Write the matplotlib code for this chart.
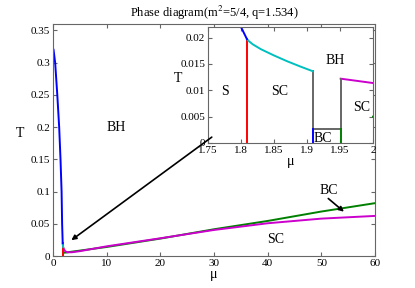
import matplotlib
matplotlib.use("Agg")
import matplotlib.pyplot as plt

plt.rcParams['font.family'] = ['Liberation Serif', 'DejaVu Serif']
plt.rcParams['mathtext.fontset'] = 'stix'

# boundary curves (mu, T)
blue_mu = [0.1, 0.4, 0.8, 1.15, 1.4, 1.6, 1.7, 1.8, 1.809]
blue_T = [0.32, 0.30, 0.25, 0.20, 0.15, 0.10, 0.05, 0.022, 0.0197]
cyan_mu = [1.809, 1.812, 1.818, 1.83, 1.85, 1.87, 1.89, 1.909]
cyan_T = [0.0197, 0.0193, 0.0187, 0.0178, 0.0166, 0.0155, 0.0145, 0.0136]
red_mu = [1.809, 1.809]
red_T = [0.0, 0.0197]
gray_mu = [1.909, 1.909, 1.951, 1.951]
gray_T = [0.0136, 0.0027, 0.0027, 0.0122]
bluev_mu = [1.909, 1.909]
bluev_T = [0.0, 0.0027]
greenv_mu = [1.951, 1.951]
greenv_T = [0.0, 0.0027]
mag_mu = [1.951, 2.2, 2.6, 3.5, 5, 10, 20, 30, 40, 50, 60]
mag_T = [0.0122, 0.008, 0.0058, 0.0058, 0.0075, 0.0150, 0.0275, 0.0404, 0.0508, 0.058, 0.0622]
green_mu = [2.0, 10, 20, 30, 40, 50, 60]
green_T = [0.005, 0.014, 0.027, 0.0415, 0.0544, 0.069, 0.082]

main_xticks = [0, 10, 20, 30, 40, 50, 60]
main_yticks = [0, 0.05, 0.1, 0.15, 0.2, 0.25, 0.3, 0.35]
main_ylabels = ['0', '0.05', '0.1', '0.15', '0.2', '0.25', '0.3', '0.35']
ins_xticks = [1.75, 1.8, 1.85, 1.9, 1.95, 2.0]
ins_xlabels = ['1.75', '1.8', '1.85', '1.9', '1.95', '2']
ins_yticks = [0, 0.005, 0.01, 0.015, 0.02]
ins_ylabels = ['0', '0.005', '0.01', '0.015', '0.02']

axcol = '0.4'


def draw_curves(a, lw):
    a.plot(green_mu, green_T, color='#008000', lw=lw)
    a.plot(mag_mu, mag_T, color='#cc00cc', lw=lw)
    a.plot(gray_mu, gray_T, color='0.4', lw=lw)
    a.plot(bluev_mu, bluev_T, color='#0000ff', lw=lw)
    a.plot(greenv_mu, greenv_T, color='#008000', lw=lw)
    a.plot(red_mu, red_T, color='#ff0000', lw=lw)
    a.plot(cyan_mu, cyan_T, color='#00bfbf', lw=lw)
    a.plot(blue_mu, blue_T, color='#0000ff', lw=lw)


def style(a):
    for s in a.spines.values():
        s.set_color(axcol)
    a.tick_params(direction='in', top=True, right=True, labelsize=8,
                  color=axcol, length=3, pad=2)


fig = plt.figure(figsize=(4.15, 2.88), dpi=100)
ax = fig.add_axes([53 / 415, 1 - 256 / 288, 322 / 415, 232 / 288])
draw_curves(ax, 1.4)
ax.set_xlim(0, 60)
ax.set_ylim(0, 0.36)
ax.set_xticks(main_xticks)
ax.set_yticks(main_yticks)
ax.set_yticklabels(main_ylabels)
style(ax)
ax.set_xlabel('μ', fontsize=10, labelpad=0)
ax.set_ylabel('T', fontsize=10, rotation=0, labelpad=8)
ax.set_title('Phase diagram(m$^2$=5/4, q=1.534)', fontsize=9, pad=5)
ax.text(11.8, 0.2, 'BH', fontsize=10, ha='center', va='center')
ax.text(41.4, 0.025, 'SC', fontsize=10, ha='center', va='center')
ax.text(51.3, 0.101, 'BC', fontsize=10, ha='center', va='center')
ax.annotate('', xy=(54.6, 0.066), xytext=(50.9, 0.092),
            arrowprops=dict(arrowstyle='-|>', color='black', lw=1.2,
                            mutation_scale=7))

ins = fig.add_axes([208 / 415, 1 - 143 / 288, 165 / 415, 116 / 288])
draw_curves(ins, 1.4)
ins.set_xlim(1.75, 2.0)
ins.set_ylim(0, 0.022)
ins.set_xticks(ins_xticks)
ins.set_xticklabels(ins_xlabels)
ins.set_yticks(ins_yticks)
ins.set_yticklabels(ins_ylabels)
style(ins)
ins.set_xlabel('μ', fontsize=10, labelpad=0)
ins.set_ylabel('T', fontsize=10, rotation=0, labelpad=2)
ins.text(1.775, 0.0098, 'S', fontsize=10, ha='center', va='center')
ins.text(1.859, 0.0098, 'SC', fontsize=10, ha='center', va='center')
ins.text(1.942, 0.0157, 'BH', fontsize=10, ha='center', va='center')
ins.text(1.983, 0.0067, 'SC', fontsize=10, ha='center', va='center')
ins.text(1.924, 0.0009, 'BC', fontsize=10, ha='center', va='center')

# arrow from the inset corner down to the zoomed region
ins.annotate('', xy=(3.0, 0.022), xycoords=ax.transData,
             xytext=(30.0, 0.187), textcoords=ax.transData,
             annotation_clip=False,
             arrowprops=dict(arrowstyle='-|>', color='black', lw=1.2,
                             mutation_scale=7))

fig.savefig('out.png', dpi=100)
